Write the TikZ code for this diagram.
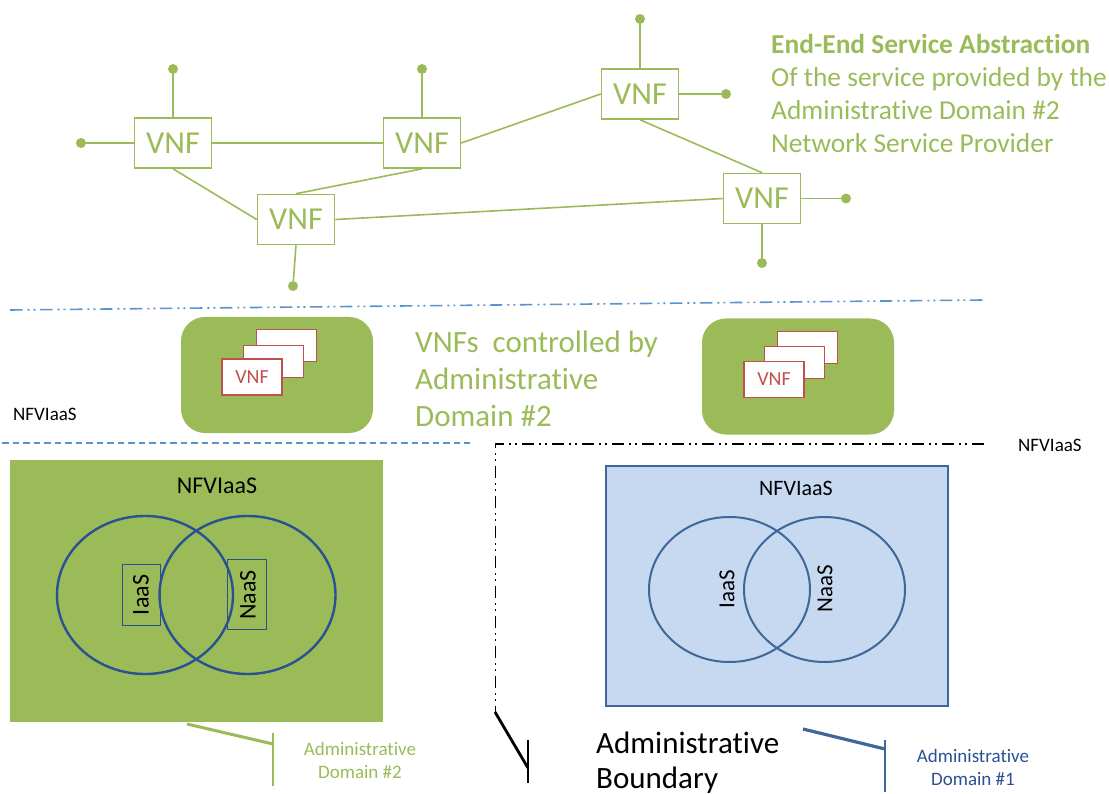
\documentclass[tikz,border=0pt]{standalone}
\usepackage{fontspec}
\usetikzlibrary{shapes.geometric}
\setmainfont[Ligatures=NoCommon]{Carlito}
\definecolor{grn}{HTML}{9BBB59}
\definecolor{sepblue}{HTML}{5B93D0}
\definecolor{navy}{HTML}{2A5192}
\definecolor{bord}{HTML}{3F6797}
\definecolor{pale}{HTML}{C6D9F1}
\definecolor{redd}{HTML}{C0504D}
\definecolor{steel}{HTML}{3F6797}
\newcommand{\fs}[1]{\fontsize{#1}{#1}\selectfont}
\tikzset{
 vnf/.style={draw=grn,line width=1.6pt,fill=white,minimum width=77pt,minimum height=50pt,inner sep=0pt,text=grn,font=\fs{32}},
 term/.style={circle,fill=grn,minimum size=10pt,inner sep=0pt},
 link/.style={draw=grn,line width=1.6pt},
 card/.style={draw=redd,line width=1pt,fill=white,minimum width=60pt,minimum height=32pt,inner sep=0pt},
 frontcard/.style={card,line width=1.4pt,minimum height=36pt,text=redd,font=\fs{20}},
 pod/.style={fill=grn,rounded corners=24pt,minimum width=192pt,minimum height=116pt,inner sep=0pt},
 venn/.style={draw=navy,line width=2.4pt,ellipse,minimum width=176pt,minimum height=158pt,inner sep=0pt},
 vennb/.style={draw=steel,line width=2pt,ellipse,minimum width=161pt,minimum height=145pt,inner sep=0pt},
 svc/.style={draw=navy,line width=1pt,inner sep=0pt},
 lbl/.style={inner sep=0pt,text=black},
 green text/.style={inner sep=0pt,text=grn,align=left},
 ddd/.style={dash pattern=on 12.5pt off 5pt on 2pt off 4pt on 2pt off 4.5pt},
}
\begin{document}
\begin{tikzpicture}[x=1pt,y=-1pt]
\useasboundingbox (0,0) rectangle (1109,794);
% top graph
\node[vnf] (v1) at (173,143) {VNF};
\node[vnf] (v2) at (422,143) {VNF};
\node[vnf] (v3) at (640,94) {VNF};
\node[vnf] (v4) at (762,198.5) {VNF};
\node[vnf] (v5) at (296,219.5) {VNF};
\node[term] (t1) at (81,143) {};
\node[term] (t2) at (173,69) {};
\node[term] (t3) at (422,69) {};
\node[term] (t4) at (640,19) {};
\node[term] (t5) at (726,94) {};
\node[term] (t6) at (846,198.5) {};
\node[term] (t7) at (762,263) {};
\node[term] (t8) at (293,286) {};
\draw[link] (t1) -- (v1.west);
\draw[link] (t2) -- (v1.north);
\draw[link] (t3) -- (v2.north);
\draw[link] (t4) -- (v3.north);
\draw[link] (t5) -- (v3.east);
\draw[link] (t6) -- (v4.east);
\draw[link] (t7) -- (v4.south);
\draw[link] (t8) -- (v5.south);
\draw[link] (v1.east) -- (v2.west);
\draw[link] (v1.south) -- (v5.west);
\draw[link] (v5.north) -- (v2.south);
\draw[link] (v2.east) -- (v3.west);
\draw[link] (v3.south) -- (v4.north);
\draw[link] (v5.east) -- (v4.west);
\node[green text,anchor=base west,font=\fs{27.4}] (title) at (771,54) {\textbf{End-End Service Abstraction}};
\node[green text,anchor=base west,font=\fs{27.4}] (t2a) at (771,87) {Of the service provided by the};
\node[green text,anchor=base west,font=\fs{27.4}] (t2b) at (771,120) {Administrative Domain \#2};
\node[green text,anchor=base west,font=\fs{27.4}] (t2c) at (771,153) {Network Service Provider};
% separators
\coordinate (s1a) at (10,310); \coordinate (s1b) at (983,300);
\draw[sepblue,line width=1.6pt,ddd] (s1a) -- (s1b);
\coordinate (s2a) at (2,443); \coordinate (s2b) at (470,443);
\draw[sepblue,line width=1.4pt,dash pattern=on 6.5pt off 4pt] (s2a) -- (s2b);
\coordinate (b0) at (984,444); \coordinate (b1) at (495.5,444); \coordinate (b2) at (495.5,712);
\draw[black,line width=1.3pt,ddd] (b0) -- (b1) -- (b2);
% middle
\node[pod] (p1) at (277,375) {};
\node[pod] (p2) at (798,376.5) {};
\node[card] (c1) at (286,346) {};
\node[card] (c2) at (273,361.5) {};
\node[frontcard] (c3) at (252,377) {VNF};
\node[card] (c4) at (807,347.5) {};
\node[card] (c5) at (794,363) {};
\node[frontcard] (c6) at (774,379.5) {VNF};
\node[green text,anchor=north west,font=\fs{31}] (m1) at (415,331) {VNFs~ controlled by};
\node[green text,anchor=north west,font=\fs{31}] (m2) at (415,368) {Administrative};
\node[green text,anchor=north west,font=\fs{31}] (m3) at (415,405) {Domain \#2};
\node[lbl,font=\fs{19},anchor=west] (n1) at (13,414) {NFVIaaS};
\node[lbl,font=\fs{19},anchor=west] (n2) at (1018,445) {NFVIaaS};
% lower left
\node[fill=grn,minimum width=373pt,minimum height=262pt,inner sep=0pt] (g) at (196.5,591) {};
\node[lbl,font=\fs{24}] (gl) at (217,486) {NFVIaaS};
\node[svc,minimum width=38pt,minimum height=61pt] (ia) at (141,594.5) {};
\node[svc,minimum width=39pt,minimum height=70pt] (na) at (247,594) {};
\node[venn] (e1) at (145,595) {};
\node[venn] (e2) at (247.5,595) {};
\node[lbl,font=\fs{24},rotate=90] (ial) at (141,595) {IaaS};
\node[lbl,font=\fs{24},rotate=90] (nal) at (248,595) {NaaS};
% lower right
\node[fill=pale,draw=bord,line width=1.6pt,minimum width=342pt,minimum height=240pt,inner sep=0pt] (bx) at (777,586) {};
\node[lbl,font=\fs{22}] (bl) at (796,488) {NFVIaaS};
\node[vennb] (e3) at (729.5,589.5) {};
\node[vennb] (e4) at (824.5,589.5) {};
\node[lbl,font=\fs{23},rotate=90] (ial2) at (727,589) {IaaS};
\node[lbl,font=\fs{23},rotate=90] (nal2) at (825,589) {NaaS};
% callouts
\coordinate (k1) at (187,724); \coordinate (k2) at (273,744);
\coordinate (k3) at (273,733); \coordinate (k4) at (273,786);
\draw[grn,line width=3pt] (k1) -- (k2);
\draw[grn,line width=2.4pt] (k3) -- (k4);
\node[green text,align=center,font=\fs{19}] (d2) at (360,760) {Administrative\\[4pt]Domain \#2};
\coordinate (l1) at (495,712); \coordinate (l2) at (528,768);
\coordinate (l3) at (528,740); \coordinate (l4) at (528,783);
\draw[black,line width=2.8pt] (l1) -- (l2);
\draw[black,line width=2.4pt] (l3) -- (l4);
\node[lbl,anchor=north west,font=\fs{31}] (ab1) at (596,732) {Administrative};
\node[lbl,anchor=base west,font=\fs{31}] (ab2) at (596,788) {Boundary};
\coordinate (j1) at (803,729); \coordinate (j2) at (885,749);
\coordinate (j3) at (885,740); \coordinate (j4) at (885,792);
\draw[steel,line width=3.2pt] (j1) -- (j2);
\draw[steel,line width=2.4pt] (j3) -- (j4);
\node[lbl,text=navy,align=center,font=\fs{19}] (d1) at (973,767) {Administrative\\[4pt]Domain \#1};
\end{tikzpicture}
\end{document}
